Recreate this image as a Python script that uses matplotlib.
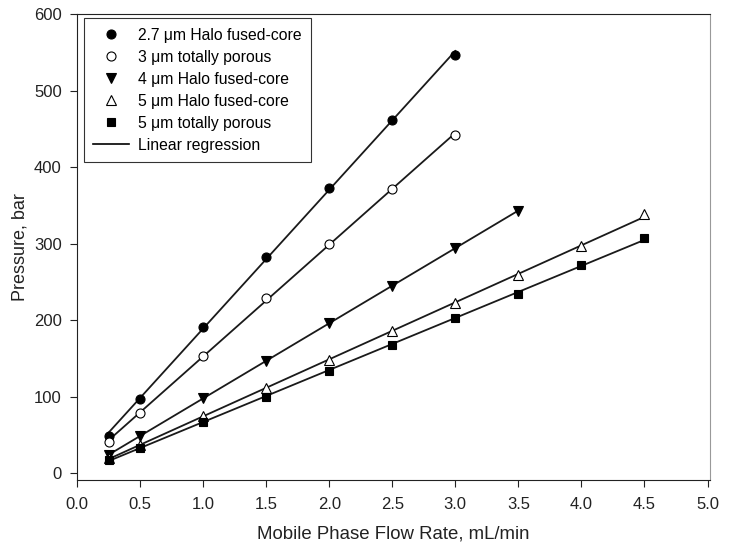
import numpy as np
import matplotlib
matplotlib.use("Agg")
import matplotlib.pyplot as plt
from matplotlib.lines import Line2D

plt.rcParams['font.family'] = ['Liberation Sans', 'DejaVu Sans']

# flow rate (mL/min) and pressure (bar) per column
flow_a = [0.25, 0.5, 1.0, 1.5, 2.0, 2.5, 3.0]
halo_27 = [49, 97, 191, 283, 373, 462, 547]
flow_b = [0.25, 0.5, 1.0, 1.5, 2.0, 2.5, 3.0]
porous_3 = [40, 79, 153, 229, 300, 371, 442]
flow_c = [0.25, 0.5, 1.0, 1.5, 2.0, 2.5, 3.0, 3.5]
halo_4 = [24, 48, 98, 146, 196, 245, 294, 343]
flow_d = [0.25, 0.5, 1.0, 1.5, 2.0, 2.5, 3.0, 3.5, 4.0, 4.5]
halo_5 = [20, 37, 74, 111, 148, 185, 222, 259, 297, 338]
flow_e = [0.25, 0.5, 1.0, 1.5, 2.0, 2.5, 3.0, 3.5, 4.0, 4.5]
porous_5 = [17, 33, 67, 100, 134, 168, 202, 234, 272, 307]

labels = ['2.7 μm Halo fused-core', '3 μm totally porous', '4 μm Halo fused-core',
          '5 μm Halo fused-core', '5 μm totally porous']

series = [
    (flow_a, halo_27, 'o', 'black'),
    (flow_b, porous_3, 'o', 'white'),
    (flow_c, halo_4, 'v', 'black'),
    (flow_d, halo_5, '^', 'white'),
    (flow_e, porous_5, 's', 'black'),
]

fig = plt.figure(figsize=(7.29, 5.51), dpi=100)
ax = fig.add_axes([0.1056, 0.129, 0.8684, 0.8456])

handles = []
for (x, y, m, fc), lab in zip(series, labels):
    x = np.array(x)
    # straight fit through each series
    slope, icpt = np.polyfit(x, y, 1)
    ax.plot([x[0], x[-1]], [slope * x[0] + icpt, slope * x[-1] + icpt],
            color='#1a1a1a', lw=1.3, zorder=2)
    ms = 6.5 if m != 's' else 6
    ax.plot(x, y, linestyle='none', marker=m, markersize=ms, markerfacecolor=fc,
            markeredgecolor='black', markeredgewidth=0.8, zorder=3)
    handles.append(Line2D([], [], linestyle='none', marker=m, markersize=ms,
                          markerfacecolor=fc, markeredgecolor='black',
                          markeredgewidth=0.8, label=lab))
handles.append(Line2D([], [], color='black', lw=1.2, label='Linear regression'))

ax.set_xlim(0, 5.02)
ax.set_ylim(-9, 600)
ax.set_xticks(np.arange(0, 5.01, 0.5))
ax.set_xticklabels([f'{v:.1f}' for v in np.arange(0, 5.01, 0.5)])
ax.set_yticks(np.arange(0, 601, 100))
ax.tick_params(axis='both', labelsize=12, direction='out', length=5, width=0.8,
               colors='#222222')
ax.tick_params(axis='x', pad=7)
ax.tick_params(axis='y', pad=6)
ax.tick_params(top=False, right=False)
for s in ['left', 'bottom', 'top']:
    ax.spines[s].set_color('#222222')
ax.spines['right'].set_color('#999999')

ax.set_xlabel('Mobile Phase Flow Rate, mL/min', fontsize=13.4, labelpad=10, color='#222222')
ax.set_ylabel('Pressure, bar', fontsize=13, labelpad=4, color='#222222')

leg = ax.legend(handles=handles, loc='upper left', bbox_to_anchor=(0.011, 0.991),
                fontsize=11.3, frameon=True, fancybox=False, edgecolor='black',
                borderpad=0.6, labelspacing=0.45, handlelength=2.3, handletextpad=0.55,
                borderaxespad=0)
leg.get_frame().set_linewidth(0.8)

fig.savefig('out.png', dpi=100)
